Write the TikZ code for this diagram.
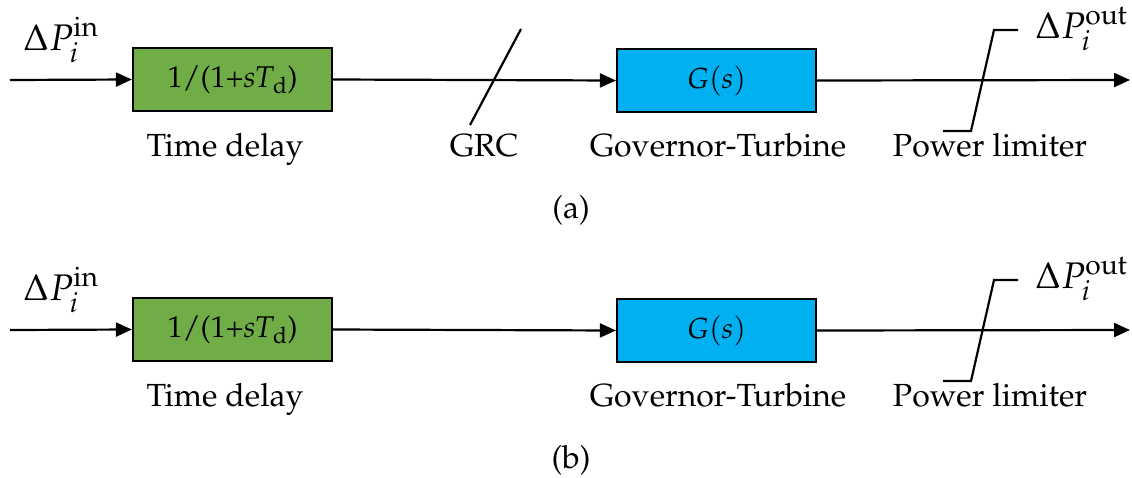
\documentclass[tikz,border=0pt]{standalone}
\usepackage[T1]{fontenc}
\usepackage{mathpazo}
\usetikzlibrary{arrows.meta}
\definecolor{boxgreen}{RGB}{112,173,71}
\definecolor{boxblue}{RGB}{0,176,240}
\tikzset{
  blk/.style={draw=black, line width=2.2pt, minimum width=199pt, minimum height=63pt, inner sep=0pt, font=\fontsize{29}{34}\selectfont},
  greenblk/.style={blk, fill=boxgreen, font=\fontsize{30}{34}\selectfont},
  blueblk/.style={blk, fill=boxblue},
  lbl/.style={anchor=base, inner sep=0pt, font=\fontsize{32}{38}\selectfont},
  sig/.style={anchor=base west, inner sep=0pt, font=\fontsize{37}{42}\selectfont},
  wire/.style={line width=2.2pt},
  arr/.style={line width=2.2pt, -{Triangle[length=16pt,width=14pt]}},
}
\newcommand{\tdelay}{1/(1+\textit{s\kern-0.5pt T}\kern-1pt\textsubscript{d})}
\begin{document}
\begin{tikzpicture}[x=1pt,y=-1pt]
\useasboundingbox (0,0) rectangle (1132,477);
% ---------- panel (a) ----------
\coordinate (inA) at (10,80);
\node[greenblk] (gA) at (232.5,79.5) {\tdelay};
\node[blueblk] (bA) at (716.5,80.5) {$G(s)$};
\coordinate (outA) at (1130,80);
\draw[arr] (inA) -- (gA.west);
\draw[arr] (gA.east) -- (bA.west);
\draw[arr] (bA.east) -- (outA);
\coordinate (grcA1) at (521,29);
\coordinate (grcA2) at (470,125);
\draw[wire] (grcA1) -- (grcA2);
\coordinate (limA1) at (943,131);
\coordinate (limA2) at (971,131);
\coordinate (limA3) at (994,30);
\coordinate (limA4) at (1018,30);
\draw[wire] (limA1) -- (limA2) -- (limA3) -- (limA4);
\node[sig] (pinA) at (23,50) {$\Delta P_i^{\mathrm{in}}$};
\node[sig] (poutA) at (1035,38) {$\Delta P_i^{\mathrm{out}}$};
\node[lbl] (tdA) at (225,156) {Time delay};
\node[lbl] (grcA) at (484,156) {GRC};
\node[lbl] (gtA) at (718,156) {Governor-Turbine};
\node[lbl] (plA) at (990,156) {Power limiter};
\node[lbl] (capA) at (571,218) {(a)};
% ---------- panel (b) ----------
\coordinate (inB) at (10,330);
\node[greenblk] (gB) at (232.5,329.5) {\tdelay};
\node[blueblk] (bB) at (716.5,330.5) {$G(s)$};
\coordinate (outB) at (1130,330);
\draw[arr] (inB) -- (gB.west);
\draw[arr] (gB.east) -- (bB.west);
\draw[arr] (bB.east) -- (outB);
\coordinate (limB1) at (943,381);
\coordinate (limB2) at (971,381);
\coordinate (limB3) at (994,280);
\coordinate (limB4) at (1018,280);
\draw[wire] (limB1) -- (limB2) -- (limB3) -- (limB4);
\node[sig] (pinB) at (23,300) {$\Delta P_i^{\mathrm{in}}$};
\node[sig] (poutB) at (1035,288) {$\Delta P_i^{\mathrm{out}}$};
\node[lbl] (tdB) at (225,406) {Time delay};
\node[lbl] (gtB) at (718,406) {Governor-Turbine};
\node[lbl] (plB) at (990,406) {Power limiter};
\node[lbl] (capB) at (571,468) {(b)};
\end{tikzpicture}
\end{document}
